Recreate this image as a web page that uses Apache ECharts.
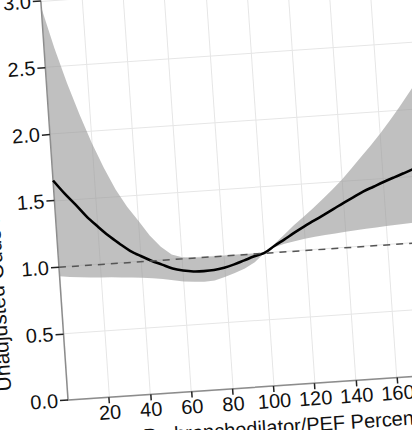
<!DOCTYPE html>
<html>
<head>
<meta charset="utf-8">
<script src="https://cdn.jsdelivr.net/npm/echarts@6/dist/echarts.min.js"></script>
<style>
html,body{margin:0;padding:0;background:#fff;overflow:hidden;width:412px;height:430px;}
#chart{position:absolute;left:0;top:-20px;width:560px;height:480px;transform-origin:68px 420px;transform:rotate(-3.9deg);}
</style>
</head>
<body>
<div id="chart"></div>
<script>
// x: FEV1/PEF percent predicted
const xValues = [0,5,10,15,20,25,30,35,40,45,50,55,60,65,70,75,80,85,90,95,100,105,110,115,120,125,130,135,140,145,150,155,160,165,170,175,180,185,190];
// odds ratio estimate
const orMean  = [1.65,1.55,1.46,1.365,1.285,1.21,1.145,1.085,1.04,1.0,0.965,0.93,0.91,0.898,0.895,0.898,0.91,0.93,0.955,0.98,1.0,1.047,1.09,1.135,1.177,1.216,1.255,1.295,1.335,1.373,1.41,1.44,1.47,1.498,1.525,1.553,1.58,1.605,1.63];
// 95% confidence band
const ciUpper = [2.95,2.64,2.37,2.13,1.91,1.72,1.55,1.415,1.305,1.19,1.10,1.035,1.01,1.0,1.0,1.0,1.0,1.0,1.0,1.0,1.0,1.06,1.125,1.19,1.25,1.31,1.375,1.44,1.51,1.59,1.67,1.75,1.835,1.925,2.02,2.12,2.22,2.33,2.44];
const ciLower = [0.93,0.92,0.913,0.906,0.90,0.896,0.89,0.884,0.877,0.868,0.857,0.842,0.828,0.82,0.816,0.82,0.84,0.865,0.893,0.935,1.0,1.037,1.058,1.073,1.085,1.095,1.103,1.11,1.117,1.123,1.129,1.134,1.139,1.144,1.148,1.152,1.155,1.158,1.16];
const referenceOR = 1.0;
const xTitle = 'Prebronchodilator/PEF Percent Predicted';
const yTitle = 'Unadjusted Odds Ratio';

const font = 'Liberation Sans, Arial, Helvetica, sans-serif';
const meanData = xValues.map((x, i) => [x, orMean[i]]);

const chart = echarts.init(document.getElementById('chart'), null, {renderer: 'svg'});
chart.setOption({
  animation: false,
  backgroundColor: '#ffffff',
  grid: {left: 68, top: 20, right: 80, bottom: 60, containLabel: false, outerBoundsMode: 'none'},
  xAxis: {
    type: 'value', min: 0, max: 200, interval: 20,
    name: xTitle, nameLocation: 'middle', nameGap: 31,
    nameTextStyle: {fontSize: 20, color: '#111', fontFamily: font, padding: [0, 0, 0, 100]},
    axisLine: {show: true, lineStyle: {color: '#8c8c8c', width: 1.5}},
    axisTick: {show: true, length: 6, lineStyle: {color: '#222', width: 1.5}},
    axisLabel: {fontSize: 20, color: '#111', fontFamily: font, margin: 5, showMinLabel: false},
    splitLine: {show: true, lineStyle: {color: '#e6e6e6', width: 1}}
  },
  yAxis: {
    type: 'value', min: 0, max: 3, interval: 0.5,
    name: yTitle, nameLocation: 'middle', nameGap: 53,
    nameTextStyle: {fontSize: 21, color: '#111', fontFamily: font, padding: [0, 157, 0, 0]},
    axisLine: {show: true, lineStyle: {color: '#8c8c8c', width: 1.5}},
    axisTick: {show: true, length: 8, lineStyle: {color: '#222', width: 1.5}},
    axisLabel: {fontSize: 20, color: '#111', fontFamily: font, margin: 10, formatter: v => v.toFixed(1)},
    splitLine: {show: true, lineStyle: {color: '#e6e6e6', width: 1}}
  },
  series: [
    {
      type: 'custom', name: 'band', silent: true, clip: true, z: 1,
      data: [0],
      renderItem: function (params, api) {
        const pts = [];
        for (let i = 0; i < xValues.length; i++) pts.push(api.coord([xValues[i], ciUpper[i]]));
        for (let i = xValues.length - 1; i >= 0; i--) pts.push(api.coord([xValues[i], ciLower[i]]));
        return {
          type: 'polygon',
          shape: {points: pts},
          style: {fill: '#9a9a9a', opacity: 0.62, stroke: null}
        };
      }
    },
    {
      type: 'line', name: 'OR', data: meanData, smooth: 0.35, symbol: 'none',
      lineStyle: {color: '#000', width: 2.6}, z: 3,
      markLine: {
        silent: true, symbol: 'none', label: {show: false},
        lineStyle: {color: '#555', width: 1.5, type: [7, 6]},
        data: [{yAxis: referenceOR}]
      }
    }
  ]
});
</script>
</body>
</html>
